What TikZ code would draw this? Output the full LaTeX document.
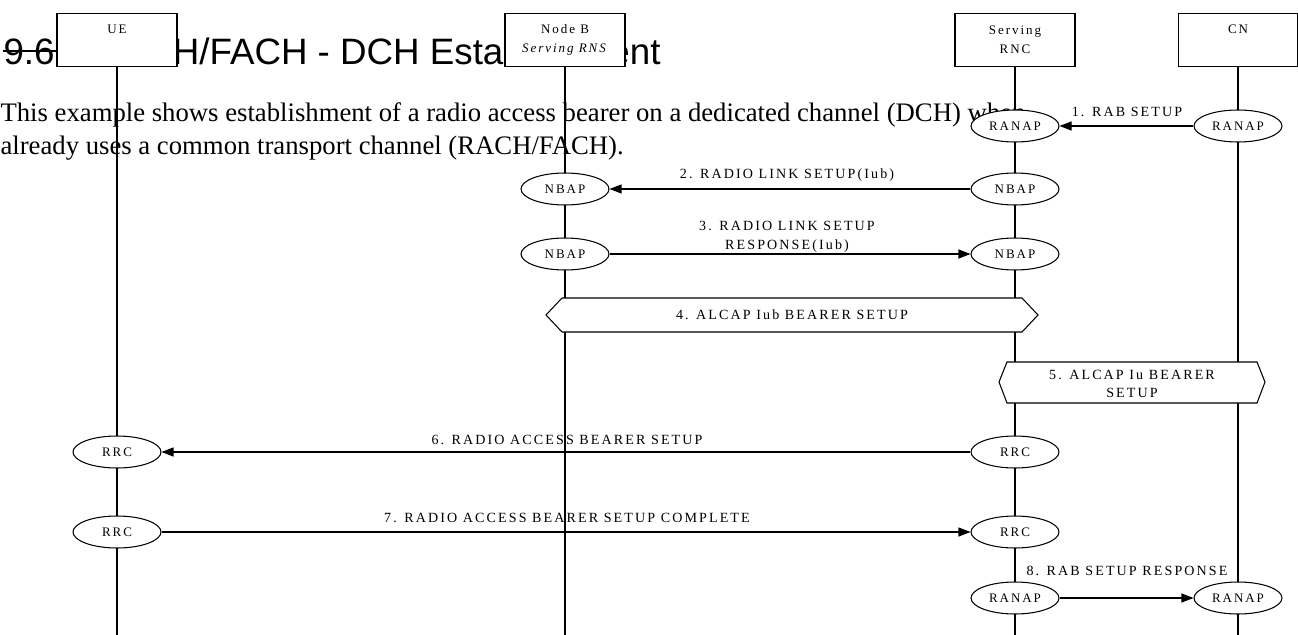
\documentclass[tikz,border=0pt]{standalone}
\usepackage{fontspec}
\setmainfont{Liberation Serif}
\newfontfamily\headfont{Liberation Sans}
\newfontfamily\sqfont[LetterSpace=15]{Liberation Serif}
\usetikzlibrary{arrows.meta, shapes.geometric}

\tikzset{
  entity/.style={draw, fill=white, minimum width=2.4cm, minimum height=1.06cm, anchor=north,
    align=center, inner sep=1pt, font=\sqfont\fontsize{7.4}{10.8}\selectfont},
  oneline/.style={text depth=0.42cm},
  proto/.style={draw, ellipse, fill=white, minimum width=1.76cm, minimum height=0.64cm,
    inner sep=0pt, font=\sqfont\fontsize{7.4}{9}\selectfont},
  msg/.style={-{Triangle[length=0.24cm, width=0.18cm]}},
  lbl/.style={align=center, inner sep=0pt, font=\sqfont\fontsize{8}{10.5}\selectfont},
  hexbox/.style={draw, fill=white},
  bodytxt/.style={anchor=base west, inner sep=0pt, font=\fontsize{15.2}{18}\selectfont},
}

\begin{document}
\begin{tikzpicture}[x=0.02cm, y=-0.02cm, line width=0.6pt]
\useasboundingbox (0,0) rectangle (1298,635);

\node[anchor=base west, inner sep=0pt, font=\headfont\fontsize{20.9}{25}\selectfont] (heading) at (3,65)
  {9.6.1 RACH/FACH - DCH Establishment};
\draw[line width=1.1pt] ([yshift=0.28cm]heading.base west) -- ++(60,0);
\node[bodytxt] (intro1) at (0,122)
  {This example shows establishment of a radio access bearer on a dedicated channel (DCH) when};
\node[bodytxt] (intro2) at (0,154) {already uses a common transport channel (RACH/FACH).};

\node[entity, oneline] (ue) at (117,13) {UE};
\node[entity] (nodeb) at (565,13) {Node B\\\textit{Serving RNS}};
\node[entity] (rnc) at (1015,13) {Serving\\RNC};
\node[entity, oneline] (cn) at (1238,13) {CN};

\coordinate (bottom) at (0,635);
\foreach \n in {ue, nodeb, rnc, cn}
  \draw (\n) -- (\n |- bottom);

\foreach \n/\at/\y/\txt in {rnc1/rnc/126/RANAP, cn1/cn/126/RANAP, nb2/nodeb/189/NBAP, rnc2/rnc/189/NBAP,
    nb3/nodeb/254/NBAP, rnc3/rnc/254/NBAP, ue6/ue/452/RRC, rnc6/rnc/452/RRC,
    ue7/ue/532/RRC, rnc7/rnc/532/RRC, rnc8/rnc/598/RANAP, cn8/cn/598/RANAP}
  \node[proto] (\n) at (\at |- 0,\y) {\txt};

\foreach \a/\b in {cn1/rnc1, rnc2/nb2, nb3/rnc3, rnc6/ue6, ue7/rnc7, rnc8/cn8}
  \draw[msg] (\a) -- (\b);

\node[lbl] (m1) at (1127,112) {1. RAB SETUP};
\node[lbl] (m2) at (787,175) {2. RADIO LINK SETUP(Iub)};
\node[lbl] (m3) at (787,237) {3. RADIO LINK SETUP\\RESPONSE(Iub)};
\node[lbl] (m6) at (567,440) {6. RADIO ACCESS BEARER SETUP};
\node[lbl] (m7) at (567,518) {7. RADIO ACCESS BEARER SETUP COMPLETE};
\node[lbl] (m8) at (1127,571) {8. RAB SETUP RESPONSE};

\draw[hexbox] (546,315) -- (562,298) -- (1022,298) -- (1038,315) -- (1022,332) -- (562,332) -- cycle;
\node[lbl] (m4) at (792,315) {4. ALCAP Iub BEARER SETUP};
\draw[hexbox] (999,382) -- (1007,362) -- (1257,362) -- (1265,382) -- (1257,403) -- (1007,403) -- cycle;
\node[lbl] (m5) at (1132,384) {5. ALCAP Iu BEARER\\SETUP};
\end{tikzpicture}
\end{document}
